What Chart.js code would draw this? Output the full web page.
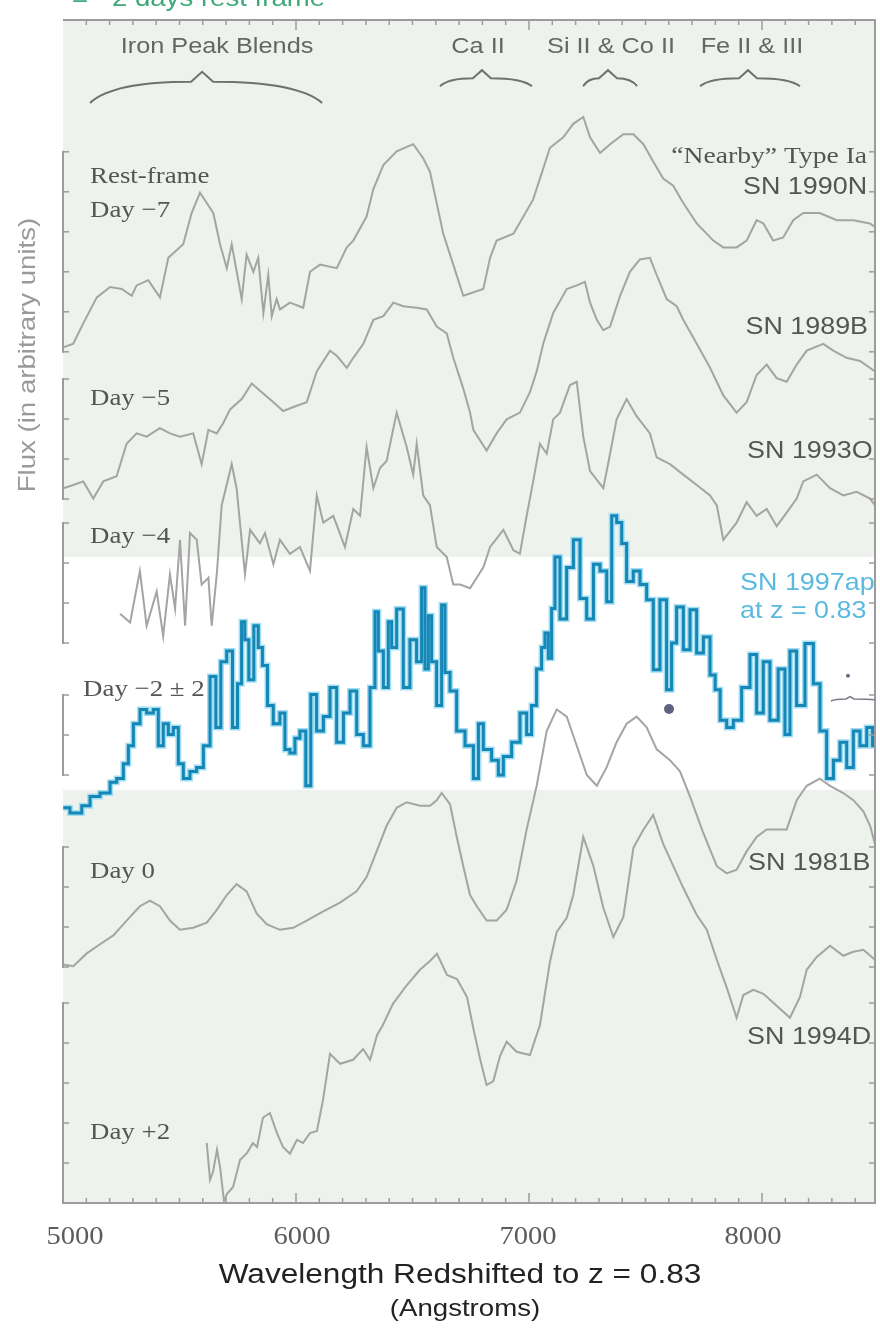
<!DOCTYPE html>
<html>
<head>
<meta charset="utf-8">
<title>Type Ia supernova spectra compared with SN 1997ap</title>
<script src="https://cdn.jsdelivr.net/npm/chart.js@4.4.1/dist/chart.umd.min.js"></script>
<style>
  html, body { margin: 0; padding: 0; background: #ffffff; }
  #wrap { width: 880px; height: 1329px; }
</style>
</head>
<body>
<div id="wrap"><canvas id="spectra" width="880" height="1329"></canvas></div>
<script>
// ---- Spectra: wavelength (Angstroms, redshifted to z = 0.83) and offset flux (arbitrary units) ----
const sn1990nWave = [5001,5044,5087,5145,5202,5252,5295,5316,5366,5416,5452,5516,5552,5588,5617,5645,5674,5703,5724,5767,5788,5817,5838,5860,5881,5896,5917,5931,5974,6031,6060,6103,6175,6218,6246,6303,6332,6375,6432,6503,6546,6575,6632,6675,6718,6804,6833,6861,6933,6976,7018,7047,7090,7147,7190,7233,7262,7305,7348,7405,7448,7491,7533,7576,7619,7662,7720,7791,7834,7891,7934,7977,8006,8048,8091,8134,8177,8248,8321,8392,8463,8485];
const sn1990nFlux = [21.39,21.48,21.99,22.64,22.90,22.85,22.68,22.94,23.07,22.64,23.63,23.97,24.75,25.26,25.00,24.75,23.97,23.37,23.97,22.60,23.71,23.28,23.63,22.25,23.20,22.17,22.60,22.34,22.51,22.38,23.28,23.46,23.37,23.89,24.06,24.66,25.35,25.95,26.29,26.47,26.12,25.78,24.23,23.46,22.68,22.85,23.63,24.06,24.23,24.66,25.09,25.61,26.38,26.64,26.98,27.15,26.64,26.25,26.47,26.72,26.72,26.47,26.04,25.61,25.43,25.00,24.49,24.06,23.89,23.89,24.06,24.57,24.49,24.06,24.14,24.57,24.75,24.75,24.57,24.57,24.49,24.40];

const sn1989bWave = [5001,5044,5087,5130,5173,5230,5273,5316,5359,5416,5459,5502,5559,5595,5624,5660,5688,5717,5767,5810,5853,5903,5945,6003,6046,6089,6146,6175,6218,6246,6289,6332,6375,6418,6460,6518,6561,6604,6647,6675,6718,6747,6761,6818,6861,6904,6961,7004,7033,7061,7104,7162,7205,7240,7262,7291,7319,7348,7391,7433,7476,7519,7548,7591,7634,7662,7720,7777,7834,7891,7934,7977,8020,8063,8106,8149,8192,8263,8306,8363,8421,8485];
const sn1989bFlux = [17.87,17.95,18.04,17.61,18.04,18.17,18.98,19.24,19.16,19.37,19.24,19.16,19.24,18.47,19.33,19.24,19.50,19.84,20.10,20.49,20.27,20.02,19.80,19.93,20.02,20.79,21.31,21.18,20.88,21.13,21.48,22.08,22.17,22.51,22.42,22.38,22.34,21.91,21.74,21.13,20.36,19.76,19.33,18.81,19.24,19.59,19.76,20.27,20.79,21.48,22.25,22.85,22.94,23.03,22.51,22.08,21.82,21.91,22.68,23.28,23.59,23.63,23.20,22.60,22.42,22.08,21.48,20.88,20.19,19.76,20.02,20.70,20.96,20.62,20.53,20.96,21.31,21.48,21.31,21.13,21.05,20.79];

const sn1993oWave = [5245,5288,5330,5359,5402,5430,5459,5481,5502,5524,5545,5574,5595,5624,5638,5660,5681,5724,5745,5781,5803,5845,5867,5903,5931,5974,6017,6060,6089,6117,6160,6210,6246,6275,6303,6332,6361,6389,6432,6475,6503,6518,6546,6575,6604,6647,6675,6704,6747,6804,6833,6890,6933,6961,6990,7018,7047,7076,7104,7133,7176,7205,7233,7262,7319,7348,7376,7419,7462,7519,7548,7605,7662,7720,7777,7806,7834,7891,7934,7977,8020,8063,8106,8149,8177,8235,8292,8349,8406,8464,8485];
const sn1993oFlux = [14.73,14.51,15.80,14.43,15.29,14.17,15.72,14.86,16.58,14.43,16.75,16.58,15.46,15.63,14.43,15.72,17.44,18.47,17.87,15.72,16.83,16.49,16.75,15.97,16.58,16.23,16.40,15.80,17.69,17.01,17.18,16.40,17.35,17.18,18.90,17.87,18.38,18.55,19.76,18.90,18.21,18.98,17.69,17.44,16.40,16.15,15.46,15.46,15.37,15.89,16.40,16.83,16.32,16.23,17.18,18.04,18.98,18.73,19.59,19.76,20.45,20.53,19.16,18.30,17.87,18.73,19.59,20.10,19.67,19.24,18.64,18.47,18.21,17.95,17.69,17.44,16.58,17.01,17.52,17.18,17.35,16.92,17.26,17.61,18.04,18.21,17.87,17.69,17.78,17.61,17.44];

const sn1997apWave = [5001,5059,5102,5130,5188,5216,5245,5273,5288,5316,5345,5373,5402,5416,5445,5459,5488,5502,5531,5559,5588,5617,5645,5667,5688,5717,5738,5760,5773,5788,5807,5831,5845,5867,5888,5917,5945,5960,5988,6003,6031,6053,6074,6103,6132,6160,6189,6218,6246,6275,6303,6332,6346,6361,6389,6403,6418,6446,6475,6503,6532,6546,6561,6575,6589,6618,6632,6647,6675,6704,6747,6776,6790,6818,6861,6876,6904,6947,6976,7004,7018,7047,7061,7076,7090,7104,7119,7147,7176,7205,7233,7262,7291,7319,7348,7362,7391,7405,7433,7462,7491,7519,7548,7576,7605,7619,7648,7677,7705,7734,7763,7791,7807,7834,7863,7891,7934,7963,7991,8020,8048,8091,8106,8134,8163,8206,8235,8263,8292,8321,8349,8378,8406,8435,8464,8485];
const sn1997apFlux = [9.88,9.75,9.93,10.16,10.25,10.52,10.61,10.98,11.43,11.98,12.34,12.25,12.34,11.43,11.98,11.71,11.89,10.98,10.61,10.79,10.89,11.43,13.16,11.89,13.53,13.80,11.89,12.98,14.53,14.08,13.08,14.43,13.89,13.44,12.44,11.98,12.25,11.34,11.25,11.62,11.80,10.43,12.71,11.80,12.16,12.89,11.52,12.25,12.80,11.71,11.43,12.89,14.78,13.80,12.89,14.53,13.89,14.85,12.89,14.08,13.53,15.38,13.35,14.68,13.53,12.44,14.95,13.26,12.80,11.80,11.43,10.61,11.98,11.34,11.07,10.70,11.16,11.52,12.25,11.71,12.44,13.35,13.89,14.25,13.62,14.86,16.15,14.60,15.89,16.58,15.11,14.60,15.97,15.80,15.03,17.18,17.01,16.49,15.54,15.80,15.46,15.08,13.33,15.08,12.83,14.00,14.90,13.83,14.83,13.75,14.15,13.20,12.83,12.07,11.89,12.07,12.89,13.71,12.25,13.53,12.07,13.35,11.71,13.80,12.44,13.99,12.98,11.80,10.61,11.07,11.52,10.89,11.80,11.43,11.89,11.43];

const sn1981bWave = [5001,5044,5102,5159,5216,5273,5330,5373,5416,5459,5502,5559,5617,5660,5703,5745,5788,5831,5874,5931,5988,6046,6117,6189,6260,6303,6346,6389,6432,6475,6532,6575,6604,6625,6661,6690,6718,6747,6776,6818,6861,6904,6947,6990,7033,7076,7119,7162,7205,7248,7291,7333,7376,7419,7462,7505,7548,7605,7648,7691,7748,7806,7849,7891,7934,7977,8020,8063,8106,8149,8192,8248,8292,8349,8392,8435,8464,8485];
const sn1981bFlux = [5.96,5.92,6.24,6.47,6.69,7.06,7.42,7.56,7.42,7.06,6.83,6.88,7.01,7.33,7.70,7.97,7.79,7.24,6.97,6.83,6.88,7.06,7.29,7.51,7.79,8.15,8.79,9.43,9.88,10.02,9.93,9.93,10.07,10.25,9.97,9.15,8.42,7.70,7.42,7.06,7.06,7.33,8.06,9.34,10.43,11.80,12.34,12.16,11.43,10.70,10.43,10.89,11.52,11.98,12.16,11.89,11.34,11.07,10.79,10.16,9.25,8.42,8.24,8.33,8.79,9.15,9.34,9.34,9.34,10.07,10.43,10.61,10.43,10.25,10.07,9.79,9.43,8.97];

const sn1994dWave = [5617,5631,5644,5661,5674,5691,5704,5730,5760,5790,5815,5833,5858,5888,5918,5944,5974,6004,6030,6060,6090,6116,6146,6189,6245,6288,6318,6348,6373,6416,6476,6532,6575,6605,6648,6691,6734,6760,6790,6818,6847,6876,6904,6947,7004,7047,7090,7119,7162,7190,7233,7276,7319,7362,7405,7448,7491,7533,7576,7619,7662,7720,7763,7806,7849,7891,7920,7963,8006,8063,8120,8163,8192,8235,8292,8349,8392,8435,8485];
const sn1994dFlux = [1.50,0.58,0.78,1.33,0.90,0.05,0.23,0.40,1.08,1.25,1.50,1.40,2.13,2.25,1.75,1.40,1.23,1.58,1.50,1.75,1.80,2.58,3.73,3.48,3.58,3.85,3.58,4.20,4.45,4.98,5.45,5.83,6.05,6.23,5.70,5.60,5.15,4.40,3.60,2.95,3.05,3.68,4.03,3.78,3.70,4.45,6.03,6.78,7.13,7.70,9.15,8.43,7.38,6.65,7.15,8.88,9.33,9.70,8.98,8.43,7.88,7.20,6.83,6.08,5.38,4.63,5.20,5.33,5.23,4.93,4.63,5.15,5.83,6.15,6.43,6.18,6.28,6.33,6.08];

// Flagged features in the SN 1997ap spectrum
const flaggedWave = [7601];
const flaggedFlux = [12.35];
const minorFlagWave = [8369];
const minorFlagFlux = [13.18];

// ---- Axes ----
const waveMin = 5000, waveMax = 8485;
const fluxMin = 0, fluxMax = 29.575;
const xTickValues = [5000, 6000, 7000, 8000];
const xTickLabels = ['5000', '6000', '7000', '8000'];
// the printed wavelength labels sit slightly off their ticks
const xTickLabelNudge = [12, 6, -1, -9];
// each spectrum carries its own short flux scale: first tick and number of ticks
const fluxTickStarts = [21.28, 17.6, 14, 10.7, 5.9, 0];
const fluxTickCounts = [6, 4, 4, 3, 4, 6];
// flux range of the high-redshift spectrum panel
const highlightBand = [10.33, 16.15];

// ---- Labels ----
const dayLabels = ['Rest-frame', 'Day \u22127', 'Day \u22125', 'Day \u22124', 'Day \u22122 \u00b1 2', 'Day 0', 'Day +2'];
const dayLabelWave = [5116, 5116, 5116, 5116, 5086, 5116, 5116];
const dayLabelFlux = [25.65, 24.8, 20.1, 16.65, 12.83, 8.28, 1.75];

const featureNames = ['Iron Peak Blends', 'Ca II', 'Si II & Co II', 'Fe II & III'];
const featureCenter = [5661, 6781, 7352, 7957];
const featureFrom = [5116, 6618, 7232, 7734];
const featureTo = [6112, 7013, 7464, 8163];
const featureTip = [5597, 6798, 7339, 7940];

const GRAY_LINE = '#a4a4a4';
const AXIS = '#9c9c9c';
const PLOT_BG = '#edf2ec';
const BLUE_DARK = '#1587b6';
const BLUE_LIGHT = '#a3ddf2';
const SERIF = '"Liberation Serif", "DejaVu Serif", serif';
const SANS = '"Liberation Sans", Arial, sans-serif';

const toPoints = (w, f) => w.map((x, i) => ({ x, y: f[i] }));

function grayLine(label, w, f) {
  return {
    label, data: toPoints(w, f), borderColor: GRAY_LINE, borderWidth: 2,
    pointRadius: 0, tension: 0, fill: false, order: 3
  };
}

function stretchedText(ctx, text, x, y, font, color, sx, align, baseline) {
  ctx.save();
  ctx.font = font;
  ctx.fillStyle = color;
  ctx.textAlign = align || 'left';
  ctx.textBaseline = baseline || 'middle';
  ctx.translate(x, y);
  ctx.scale(sx, 1);
  ctx.fillText(text, 0, 0);
  ctx.restore();
}

function segment(ctx, x1, y1, x2, y2) {
  ctx.beginPath();
  ctx.moveTo(x1, y1);
  ctx.lineTo(x2, y2);
  ctx.stroke();
}

function brace(ctx, xs, ys, from, to, tip, fEnd, fShoulder, fPeak, notch) {
  const x1 = xs.getPixelForValue(from), x2 = xs.getPixelForValue(to), xc = xs.getPixelForValue(tip);
  const yE = ys.getPixelForValue(fEnd), yS = ys.getPixelForValue(fShoulder), yC = ys.getPixelForValue(fPeak);
  ctx.beginPath();
  ctx.moveTo(x1, yE);
  ctx.quadraticCurveTo(x1 + (xc - x1) * 0.2, yS, xc - notch, yS);
  ctx.lineTo(xc, yC);
  ctx.lineTo(xc + notch, yS);
  ctx.quadraticCurveTo(x2 - (x2 - xc) * 0.2, yS, x2, yE);
  ctx.stroke();
}

const framePlugin = {
  id: 'spectraFrame',
  beforeDraw(chart) {
    const { ctx, chartArea: a, scales: { y } } = chart;
    ctx.save();
    ctx.fillStyle = '#ffffff';
    ctx.fillRect(0, 0, chart.width, chart.height);
    ctx.fillStyle = PLOT_BG;
    ctx.fillRect(a.left, a.top, a.right - a.left, a.bottom - a.top);
    const yTop = y.getPixelForValue(highlightBand[1]);
    const yBot = y.getPixelForValue(highlightBand[0]);
    ctx.fillStyle = '#ffffff';
    ctx.fillRect(a.left, yTop, a.right - a.left, yBot - yTop);
    ctx.restore();
  },
  afterDatasetsDraw(chart) {
    const { ctx, chartArea: a, scales: { x, y } } = chart;
    ctx.save();
    ctx.lineCap = 'butt';

    // frame and wavelength ticks
    ctx.strokeStyle = AXIS;
    ctx.lineWidth = 2;
    segment(ctx, a.left, a.top, a.right + 1, a.top);
    segment(ctx, a.left, a.bottom, a.right + 1, a.bottom);
    segment(ctx, a.right, a.top, a.right, a.bottom);
    ctx.lineWidth = 1.5;
    for (let w = waveMin + 100; w < waveMax; w += 100) {
      const px = x.getPixelForValue(w);
      const len = w % 1000 === 0 ? 10 : 5;
      segment(ctx, px, a.bottom, px, a.bottom - len);
      segment(ctx, px, a.top, px, a.top + len);
    }

    // per-spectrum flux scales on both sides
    fluxTickStarts.forEach((start, i) => {
      const n = fluxTickCounts[i];
      const yHi = y.getPixelForValue(start + n - 1);
      const yLo = y.getPixelForValue(start);
      ctx.lineWidth = 2;
      segment(ctx, a.left, yHi - 1, a.left, yLo + 1);
      ctx.lineWidth = 1.5;
      for (let k = 0; k < n; k++) {
        const py = y.getPixelForValue(start + k);
        segment(ctx, a.left, py, a.left + 6, py);
        segment(ctx, a.right, py, a.right - 6, py);
      }
    });

    // feature braces and names
    ctx.strokeStyle = '#707070';
    ctx.lineWidth = 2;
    featureNames.forEach((name, i) => {
      const big = i === 0;
      brace(ctx, x, y, featureFrom[i], featureTo[i], featureTip[i],
        big ? 27.5 : 27.92, big ? 28.03 : 28.12, big ? 28.28 : 28.32, big ? 11 : 9);
      stretchedText(ctx, name, x.getPixelForValue(featureCenter[i]), y.getPixelForValue(28.9),
        '22px ' + SANS, '#666666', 1.15, 'center');
    });

    // small bracket over the flagged red end of SN 1997ap
    ctx.save();
    ctx.beginPath();
    ctx.rect(a.left, a.top, a.right - a.left, a.bottom - a.top);
    ctx.clip();
    ctx.strokeStyle = '#7a7a86';
    ctx.lineWidth = 1.5;
    brace(ctx, x, y, 8296, 8520, 8378, 12.55, 12.6, 12.66, 4);
    ctx.restore();

    // epoch labels
    dayLabels.forEach((t, i) => {
      stretchedText(ctx, t, x.getPixelForValue(dayLabelWave[i]), y.getPixelForValue(dayLabelFlux[i]),
        '24px ' + SERIF, '#555555', 1.12, 'left');
    });

    // supernova names on the right, clipped at the frame
    ctx.save();
    ctx.beginPath();
    ctx.rect(0, 0, a.right + 1, chart.height);
    ctx.clip();
    const nameFont = '24px ' + SANS;
    stretchedText(ctx, '\u201cNearby\u201d Type Ia', x.getPixelForValue(8451), y.getPixelForValue(26.15),
      '24px ' + SERIF, '#555555', 1.15, 'right');
    stretchedText(ctx, 'SN 1990N', x.getPixelForValue(8451), y.getPixelForValue(25.38), nameFont, '#555555', 1.12, 'right');
    stretchedText(ctx, 'SN 1989B', x.getPixelForValue(8455), y.getPixelForValue(21.88), nameFont, '#555555', 1.12, 'right');
    stretchedText(ctx, 'SN 1993O', x.getPixelForValue(7936), y.getPixelForValue(18.78), nameFont, '#555555', 1.12, 'left');
    stretchedText(ctx, 'SN 1997ap', x.getPixelForValue(7906), y.getPixelForValue(15.5), nameFont, '#5ab9df', 1.12, 'left');
    stretchedText(ctx, 'at z = 0.83', x.getPixelForValue(7906), y.getPixelForValue(14.8), nameFont, '#5ab9df', 1.12, 'left');
    stretchedText(ctx, 'SN 1981B', x.getPixelForValue(7940), y.getPixelForValue(8.5), nameFont, '#555555', 1.12, 'left');
    stretchedText(ctx, 'SN 1994D', x.getPixelForValue(7936), y.getPixelForValue(4.13), nameFont, '#555555', 1.12, 'left');
    ctx.restore();

    // wavelength tick labels
    xTickValues.forEach((v, i) => {
      stretchedText(ctx, xTickLabels[i], x.getPixelForValue(v) + xTickLabelNudge[i], a.bottom + 34,
        '26px ' + SERIF, '#5c5c5c', 1.1, 'center');
    });

    // axis titles
    stretchedText(ctx, 'Wavelength Redshifted to z = 0.83', 460, a.bottom + 80,
      '27px ' + SANS, '#222222', 1.17, 'center', 'alphabetic');
    stretchedText(ctx, '(Angstroms)', 465, a.bottom + 113,
      '24px ' + SANS, '#222222', 1.15, 'center', 'alphabetic');
    ctx.save();
    ctx.translate(28, y.getPixelForValue(21.2));
    ctx.rotate(-Math.PI / 2);
    stretchedText(ctx, 'Flux (in arbitrary units)', 0, 0, '24px ' + SANS, '#9a9a9a', 1.15, 'center');
    ctx.restore();

    // caption line above the frame
    stretchedText(ctx, '= \u22122 days rest frame', a.left + 9, 6, '24px ' + SANS, '#3fa878', 1.15, 'left', 'alphabetic');

    ctx.restore();
  }
};

const datasets = [
  grayLine('SN 1990N', sn1990nWave, sn1990nFlux),
  grayLine('SN 1989B', sn1989bWave, sn1989bFlux),
  grayLine('SN 1993O', sn1993oWave, sn1993oFlux),
  {
    label: 'SN 1997ap (spread)', data: toPoints(sn1997apWave, sn1997apFlux),
    borderColor: BLUE_LIGHT, borderWidth: 6, stepped: 'middle',
    pointRadius: 0, fill: false, order: 2
  },
  {
    label: 'SN 1997ap', data: toPoints(sn1997apWave, sn1997apFlux),
    borderColor: BLUE_DARK, borderWidth: 3, stepped: 'middle',
    pointRadius: 0, fill: false, order: 1
  },
  grayLine('SN 1981B', sn1981bWave, sn1981bFlux),
  grayLine('SN 1994D', sn1994dWave, sn1994dFlux),
  {
    type: 'scatter', label: 'flagged', data: toPoints(flaggedWave, flaggedFlux),
    pointRadius: 5, pointBackgroundColor: '#5f6283', pointBorderWidth: 0, order: 0
  },
  {
    type: 'scatter', label: 'flagged (minor)', data: toPoints(minorFlagWave, minorFlagFlux),
    pointRadius: 2, pointBackgroundColor: '#6a6c88', pointBorderWidth: 0, order: 0
  }
];

new Chart(document.getElementById('spectra'), {
  type: 'line',
  data: { datasets },
  options: {
    responsive: false,
    animation: false,
    devicePixelRatio: 1,
    events: [],
    layout: { padding: { left: 63, right: 5, top: 20, bottom: 126 } },
    scales: {
      x: { type: 'linear', min: waveMin, max: waveMax, display: false },
      y: { type: 'linear', min: fluxMin, max: fluxMax, display: false }
    },
    plugins: { legend: { display: false }, tooltip: { enabled: false } }
  },
  plugins: [framePlugin]
});
</script>
</body>
</html>
